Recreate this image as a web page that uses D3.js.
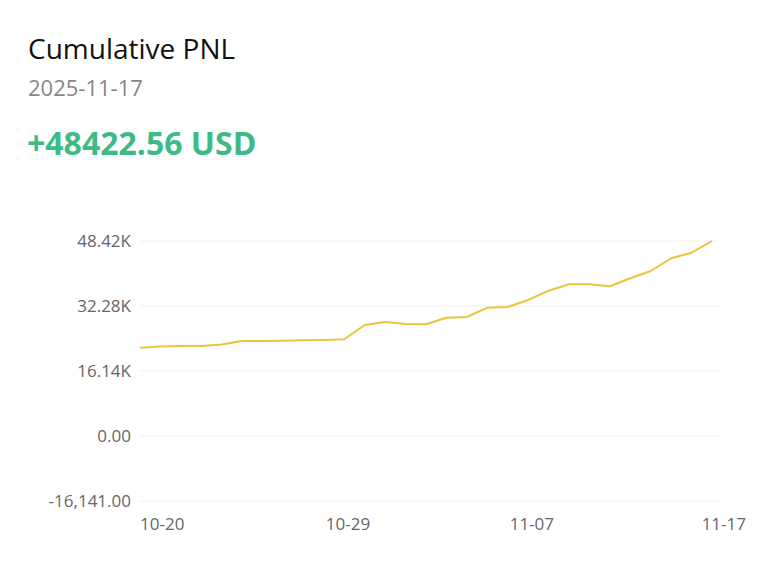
<!DOCTYPE html>
<html>
<head>
<meta charset="utf-8">
<script src="https://cdn.jsdelivr.net/npm/d3@7"></script>
<style>
  body { margin: 0; background: #fff; font-family: "Open Sans", "Noto Sans", sans-serif; }
</style>
</head>
<body>
<div class="area"></div>
<script>
const width = 768
const height = 585

const dates = ["10-20","10-21","10-22","10-23","10-24","10-25","10-26","10-27","10-28","10-29",
  "10-30","10-31","11-01","11-02","11-03","11-04","11-05","11-06","11-07","11-08",
  "11-09","11-10","11-11","11-12","11-13","11-14","11-15","11-16","11-17"]
const pnl = [21927, 22250, 22324, 22349, 22722, 23590, 23600, 23650, 23750, 23850, 24012,
  27564, 28309, 27812, 27737, 29377, 29550, 31859, 32033, 33771,
  36081, 37670, 37670, 37173, 39160, 40972, 44126, 45516, 48422.56]
const yTicks = [-16141, 0, 16141, 32282, 48422.56]
const yTickLabels = ["-16,141.00", "0.00", "16.14K", "32.28K", "48.42K"]
const xTickDates = ["10-20", "10-29", "11-07", "11-17"]

const svg = d3.select(".area").append("svg")
    .attr("width", width).attr("height", height)

svg.append("text").attr("x", 28).attr("y", 59)
    .attr("font-size", 28).attr("fill", "#111").text("Cumulative PNL")
svg.append("text").attr("x", 28).attr("y", 96)
    .attr("font-size", 22).attr("fill", "#888").text("2025-11-17")
svg.append("text").attr("x", 27).attr("y", 155)
    .attr("font-size", 32).attr("font-weight", "bold").attr("fill", "#3dbb87")
    .text("+48422.56 USD")

const x = d3.scalePoint().domain(dates).range([140, 712])
const y = d3.scaleLinear().domain([-16141, 48422.56]).range([501, 241])

// grid
svg.append("g").selectAll("line").data(yTicks).join("line")
    .attr("x1", 140).attr("x2", 718)
    .attr("y1", d => y(d)).attr("y2", d => y(d))
    .attr("stroke", "#f0f0f0").attr("stroke-width", 1)

svg.append("g").selectAll("text").data(yTicks).join("text")
    .attr("x", 131).attr("y", d => y(d) + 6)
    .attr("text-anchor", "end").attr("font-size", 17).attr("fill", "#666")
    .text((d, i) => yTickLabels[i])

svg.append("g").selectAll("text").data(xTickDates).join("text")
    .attr("x", (d, i) => i === xTickDates.length - 1 ? 746 : x(d) + (i === 0 ? 0 : 2))
    .attr("y", 530)
    .attr("text-anchor", (d, i) => i === xTickDates.length - 1 ? "end" : "start")
    .attr("font-size", 17).attr("fill", "#666")
    .text(d => d)

svg.append("path")
    .datum(pnl)
    .attr("fill", "none")
    .attr("stroke", "#e9c53c")
    .attr("stroke-width", 2)
    .attr("stroke-linejoin", "round")
    .attr("d", d3.line().x((d, i) => x(dates[i])).y(d => y(d)))
</script>
</body>
</html>
